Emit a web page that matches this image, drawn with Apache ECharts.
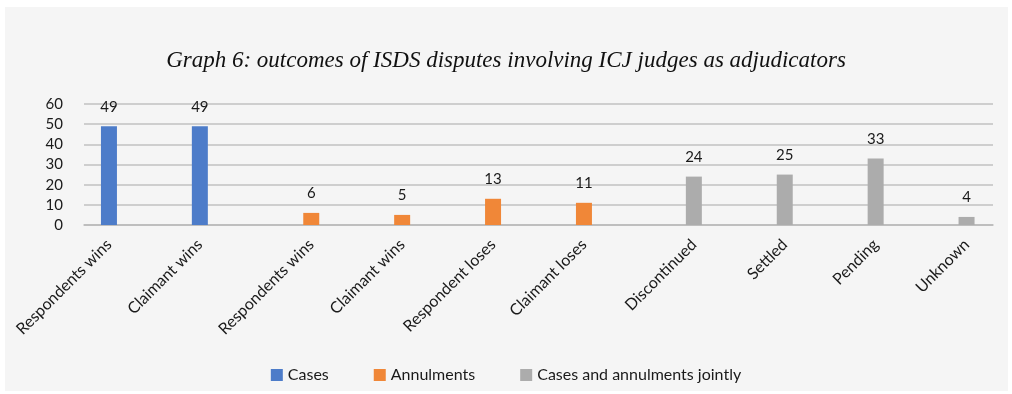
<!DOCTYPE html>
<html>
<head>
<meta charset="utf-8">
<style>
  html, body { margin: 0; padding: 0; background: #ffffff; }
  #panel { position: absolute; left: 5px; top: 7px; width: 1003px; height: 384px; background: #f5f5f5; }
  #chart { position: absolute; left: 0; top: 0; width: 1012px; height: 394px; }
</style>
<script src="https://cdn.jsdelivr.net/npm/echarts@6/dist/echarts.min.js"></script>
</head>
<body>
<div id="panel"></div>
<div id="chart"></div>
<script>
// Outcome categories along the horizontal axis
const categories = [
  'Respondents wins', 'Claimant wins', 'Respondents wins', 'Claimant wins',
  'Respondent loses', 'Claimant loses', 'Discontinued', 'Settled', 'Pending', 'Unknown'
];

// Number of disputes per outcome, one array per group (null = not part of that group)
const cases       = [49, 49, null, null, null, null, null, null, null, null];
const annulments  = [null, null, 6, 5, 13, 11, null, null, null, null];
const jointly     = [null, null, null, null, null, null, 24, 25, 33, 4];

const seriesNames = ['Cases', 'Annulments', 'Cases and annulments jointly'];
const seriesData  = [cases, annulments, jointly];
const colors      = ['#4d7cc9', '#f08738', '#acacac'];

// Value axis ticks
const yMin = 0, yMax = 60, yStep = 10;

const FONT = 'Lato, "Open Sans", sans-serif';
// Each group sits in its own clustered slot: left, middle, right of the category
const gridLefts = [63.5, 84, 103];

const grids = gridLefts.map(l => ({ left: l, top: 104, width: 909, height: 121 }));

const xAxes = seriesData.map((data, i) => ({
  type: 'category',
  gridIndex: i,
  data: categories,
  axisTick: { show: false },
  axisLine: { show: i === 1, lineStyle: { color: '#b8b8b8', width: 1.5 } },
  axisLabel: {
    interval: 0,
    rotate: 45,
    margin: 17,
    fontFamily: FONT,
    fontSize: 16,
    color: '#1a1a1a',
    formatter: (value, idx) => (data[idx] != null ? value : '')
  }
}));

const yAxes = seriesData.map((_, i) => ({
  type: 'value',
  gridIndex: i,
  min: yMin, max: yMax, interval: yStep,
  show: i === 1,
  axisLine: { show: false },
  axisTick: { show: false },
  splitLine: { show: i === 1, lineStyle: { color: '#c0c0c0', width: 1.5 } },
  axisLabel: { fontFamily: FONT, fontSize: 15, color: '#1a1a1a', margin: 21 }
}));

const series = seriesData.map((data, i) => ({
  name: seriesNames[i],
  type: 'bar',
  xAxisIndex: i,
  yAxisIndex: i,
  data: data,
  barWidth: 16,
  itemStyle: { color: colors[i] },
  label: {
    show: true,
    position: 'top',
    distance: 12,
    fontFamily: FONT,
    fontSize: 15,
    color: '#1a1a1a'
  }
}));

const chart = echarts.init(document.getElementById('chart'), null, { renderer: 'canvas' });
chart.setOption({
  backgroundColor: 'transparent',
  animation: false,
  title: {
    text: 'Graph 6: outcomes of ISDS disputes involving ICJ judges as adjudicators',
    left: 'center',
    top: 44,
    textStyle: {
      fontFamily: '"Liberation Serif", "DejaVu Serif", serif',
      fontStyle: 'italic',
      fontWeight: 'normal',
      fontSize: 23,
      color: '#111'
    }
  },
  legend: {
    data: seriesNames,
    left: 'center',
    top: 362,
    icon: 'rect',
    itemWidth: 12,
    itemHeight: 12,
    itemGap: 45,
    textStyle: { fontFamily: FONT, fontSize: 16, color: '#1a1a1a' }
  },
  grid: grids,
  xAxis: xAxes,
  yAxis: yAxes,
  series: series
});
</script>
</body>
</html>
